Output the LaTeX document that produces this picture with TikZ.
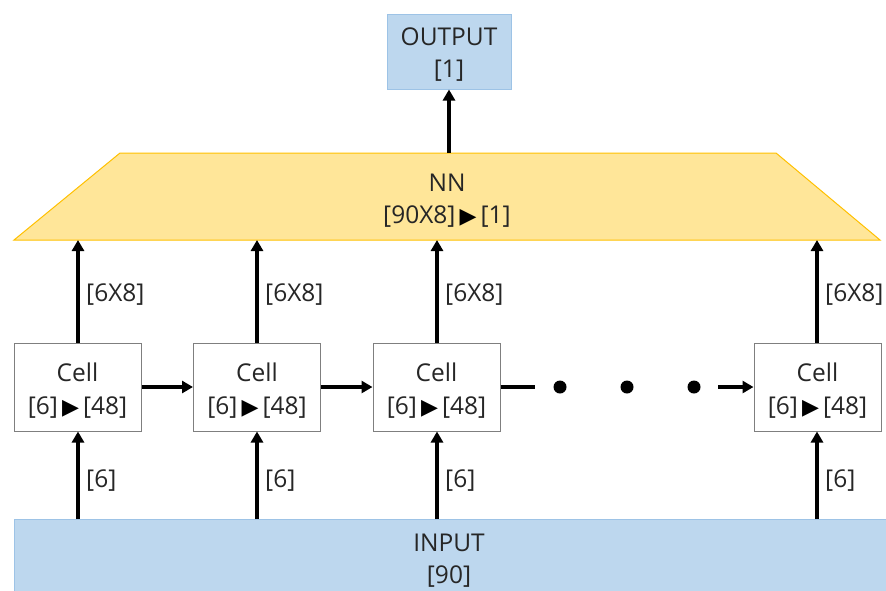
\documentclass[tikz,border=0pt]{standalone}
\usepackage{fontspec}
\setmainfont{Open Sans}
\newfontfamily\symfont{DejaVu Sans}
\usetikzlibrary{arrows.meta}
\definecolor{bluefill}{HTML}{BDD7EE}
\definecolor{blueedge}{HTML}{9DC3E6}
\definecolor{yellowfill}{HTML}{FFE699}
\definecolor{yellowedge}{HTML}{FFC000}
\definecolor{celledge}{HTML}{7F7F7F}
\definecolor{txt}{HTML}{262626}
\newcommand{\tri}{{\symfont\fontsize{22}{22}\selectfont\color{black}▶}}
\tikzset{
  bluebox/.style={draw=blueedge, fill=bluefill, line width=1pt, align=center, inner sep=0pt},
  cellbox/.style={draw=celledge, fill=white, line width=1pt, minimum width=127pt, minimum height=88pt, inner sep=0pt},
  conn/.style={line width=3.5pt, -{Triangle[length=11pt,width=12pt]}},
  lab/.style={anchor=west, inner sep=0pt},
  dot/.style={circle, fill=black, minimum size=13pt, inner sep=0pt}
}
\begin{document}
\begin{tikzpicture}[x=1pt,y=-1pt, font=\fontsize{24.5}{32.5}\selectfont, text=txt]
\useasboundingbox (0,0) rectangle (886,590);
\clip (0,0) rectangle (886,590);
% output
\node[bluebox, minimum width=124pt, minimum height=75pt] (out) at (449,51.5) {};
\node[align=center] (outtext) at (449,54.5) {OUTPUT\\{[1]}};
% NN trapezoid
\draw[draw=yellowedge, fill=yellowfill, line width=1pt] (120,153) -- (776,153) -- (880,240) -- (14,240) -- cycle;
\node[align=center] (nn) at (447,200.5) {NN\\{[90X8]}\,\tri\,[1]};
\coordinate (nnt) at (449,153);
\coordinate (nb1) at (78,240);
\coordinate (nb2) at (257,240);
\coordinate (nb3) at (437,240);
\coordinate (nb4) at (817,240);
% input
\node[bluebox, minimum width=872pt, minimum height=80pt, anchor=north west] (in) at (14,519) {};
\node[align=center] (intext) at (449,560.5) {INPUT\\{[90]}};
\coordinate (ib1) at (78,519);
\coordinate (ib2) at (257,519);
\coordinate (ib3) at (437,519);
\coordinate (ib4) at (817,519);
% cells
\node[cellbox] (c1) at (77.5,387) {};
\node[cellbox] (c2) at (257,387) {};
\node[cellbox] (c3) at (436.5,387) {};
\node[cellbox] (c4) at (817.5,387) {};
\foreach \c in {c1,c2,c3,c4}
  \node[align=center] (\c t) at ([yshift=-3.5pt]\c.center) {Cell\\{[6]}\,\tri\,[48]};
% dots
\node[dot] (d1) at (560,387) {};
\node[dot] (d2) at (627,387) {};
\node[dot] (d3) at (694,387) {};
\coordinate (le) at (535,387);
\coordinate (as) at (718,387);
% connectors
\draw[conn] (nnt) -- (out.south);
\draw[conn] (c1.north -| nb1) -- (nb1);
\draw[conn] (c2.north -| nb2) -- (nb2);
\draw[conn] (c3.north -| nb3) -- (nb3);
\draw[conn] (c4.north -| nb4) -- (nb4);
\draw[conn] (ib1) -- (c1.south -| ib1);
\draw[conn] (ib2) -- (c2.south -| ib2);
\draw[conn] (ib3) -- (c3.south -| ib3);
\draw[conn] (ib4) -- (c4.south -| ib4);
\draw[conn] (c1.east) -- (c2.west);
\draw[conn] (c2.east) -- (c3.west);
\draw[line width=3.5pt] (c3.east) -- (le);
\draw[conn] (as) -- (c4.west);
% labels
\node[lab] (l1) at (86,295) {[6X8]};
\node[lab] (l2) at (265,295) {[6X8]};
\node[lab] (l3) at (445,295) {[6X8]};
\node[lab] (l4) at (825,295) {[6X8]};
\node[lab] (m1) at (86,481) {[6]};
\node[lab] (m2) at (265,481) {[6]};
\node[lab] (m3) at (445,481) {[6]};
\node[lab] (m4) at (825,481) {[6]};
\end{tikzpicture}
\end{document}
